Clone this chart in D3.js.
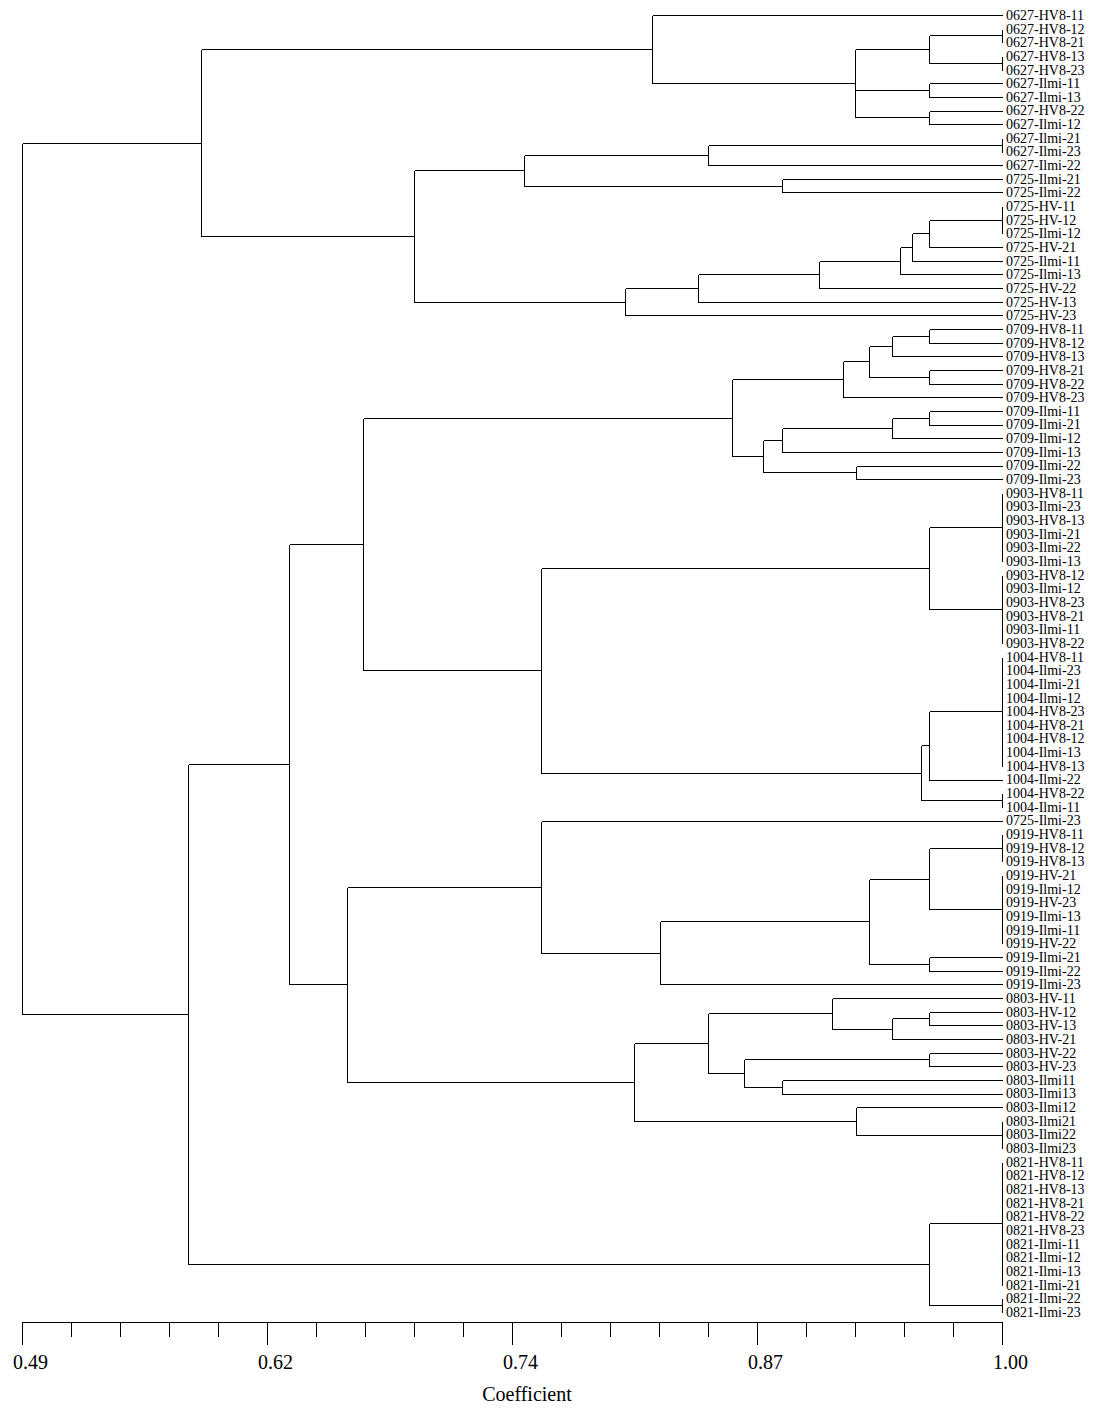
<!DOCTYPE html>
<html>
<head>
<meta charset="utf-8">
<script src="https://cdn.jsdelivr.net/npm/d3@7"></script>
<style>
	body { margin:0; background:#fff; }
	svg { display:block; }
</style>
</head>
<body>
<svg id="svgelement" width="1101" height="1420"></svg>
<script>
	// leaf labels, top to bottom
	var labels = [
		"0627-HV8-11","0627-HV8-12","0627-HV8-21","0627-HV8-13","0627-HV8-23","0627-Ilmi-11","0627-Ilmi-13","0627-HV8-22","0627-Ilmi-12",
		"0627-Ilmi-21","0627-Ilmi-23","0627-Ilmi-22","0725-Ilmi-21","0725-Ilmi-22",
		"0725-HV-11","0725-HV-12","0725-Ilmi-12","0725-HV-21","0725-Ilmi-11","0725-Ilmi-13","0725-HV-22","0725-HV-13","0725-HV-23",
		"0709-HV8-11","0709-HV8-12","0709-HV8-13","0709-HV8-21","0709-HV8-22","0709-HV8-23",
		"0709-Ilmi-11","0709-Ilmi-21","0709-Ilmi-12","0709-Ilmi-13","0709-Ilmi-22","0709-Ilmi-23",
		"0903-HV8-11","0903-Ilmi-23","0903-HV8-13","0903-Ilmi-21","0903-Ilmi-22","0903-Ilmi-13",
		"0903-HV8-12","0903-Ilmi-12","0903-HV8-23","0903-HV8-21","0903-Ilmi-11","0903-HV8-22",
		"1004-HV8-11","1004-Ilmi-23","1004-Ilmi-21","1004-Ilmi-12","1004-HV8-23","1004-HV8-21","1004-HV8-12","1004-Ilmi-13","1004-HV8-13",
		"1004-Ilmi-22","1004-HV8-22","1004-Ilmi-11",
		"0725-Ilmi-23","0919-HV8-11","0919-HV8-12","0919-HV8-13","0919-HV-21","0919-Ilmi-12","0919-HV-23","0919-Ilmi-13","0919-Ilmi-11",
		"0919-HV-22","0919-Ilmi-21","0919-Ilmi-22","0919-Ilmi-23",
		"0803-HV-11","0803-HV-12","0803-HV-13","0803-HV-21","0803-HV-22","0803-HV-23","0803-Ilmi11","0803-Ilmi13",
		"0803-Ilmi12","0803-Ilmi21","0803-Ilmi22","0803-Ilmi23",
		"0821-HV8-11","0821-HV8-12","0821-HV8-13","0821-HV8-21","0821-HV8-22","0821-HV8-23",
		"0821-Ilmi-11","0821-Ilmi-12","0821-Ilmi-13","0821-Ilmi-21","0821-Ilmi-22","0821-Ilmi-23"
	];

	// clustering: [coefficient, child, child, ...], numbers are leaf indexes
	var tree =
	[0.49,
		[0.583,
			[0.818, 0,
				[0.9235,
					[0.962, [1, 1, 2], [1, 3, 4]],
					[0.962, 5, 6],
					[0.962, 7, 8]]],
			[0.694,
				[0.751,
					[0.847, [1, 9, 10], 11],
					[0.8855, 12, 13]],
				[0.804,
					[0.842,
						[0.905,
							[0.947,
								[0.953,
									[0.962, [1, 14, 15, 16], 17],
									18],
								19],
							20],
						21],
					22]]],
		[0.5764,
			[0.629,
				[0.6675,
					[0.8595,
						[0.917,
							[0.931,
								[0.943, [0.962, 23, 24], 25],
								[0.962, 26, 27]],
							28],
						[0.8756,
							[0.8855,
								[0.943, [0.962, 29, 30], 31],
								32],
							[0.924, 33, 34]]],
					[0.760,
						[0.962, [1, 35, 36, 37, 38, 39, 40], [1, 41, 42, 43, 44, 45, 46]],
						[0.958,
							[0.962, [1, 47, 48, 49, 50, 51, 52, 53, 54, 55], 56],
							[1, 57, 58]]]],
				[0.659,
					[0.760, 59,
						[0.822,
							[0.931,
								[0.962, [1, 60, 61, 62], [1, 63, 64, 65, 66, 67, 68]],
								[0.962, 69, 70]],
							71]],
					[0.8085,
						[0.847,
							[0.9115, 72, [0.943, [0.962, 73, 74], 75]],
							[0.8657, [0.962, 76, 77], [0.8855, 78, 79]]],
						[0.924, 80, [1, 81, 82, 83]]]]],
			[0.962, [1, 84, 85, 86, 87, 88, 89, 90, 91, 92, 93], [1, 94, 95]]]];

	var axisMin = 0.49, axisMax = 1.00;
	var tickLabels = ["0.49","0.62","0.74","0.87","1.00"];
	var axisTitle = "Coefficient";

	var svg = d3.select("#svgelement");
	var x = d3.scaleLinear().domain([axisMin, axisMax]).range([22, 1002]);
	var y = d3.scalePoint().domain(d3.range(labels.length)).range([15, 1312]);

	var root = d3.hierarchy(tree, function(d){ return Array.isArray(d) ? d.slice(1) : null; });
	root.eachAfter(function(n) {
		if (n.children) {
			n.py = (n.children[0].py + n.children[n.children.length-1].py) / 2;
			n.px = x(n.data[0]);
		} else {
			n.py = y(n.data);
			n.px = x(1);
		}
	});

	var segs = [];
	root.each(function(n) {
		if (!n.children) return;
		var c0 = n.children[0], c1 = n.children[n.children.length-1];
		segs.push([n.px, c0.py, n.px, c1.py]);
		n.children.forEach(function(c) {
			if (c.px > n.px) segs.push([n.px, c.py, c.px, c.py]);
		});
	});

	svg.append("g")
		.attr("stroke", "#000")
		.attr("stroke-width", 1)
		.attr("shape-rendering", "crispEdges")
		.selectAll("line")
		.data(segs)
		.enter()
		.append("line")
		.attr("x1", function(d){ return Math.round(d[0]) + 0.5; })
		.attr("y1", function(d){ return Math.round(d[1]) + 0.5; })
		.attr("x2", function(d){ return Math.round(d[2]) + 0.5; })
		.attr("y2", function(d){ return Math.round(d[3]) + 0.5; });

	svg.append("g")
		.selectAll("text")
		.data(root.leaves())
		.enter()
		.append("text")
		.attr("x", x(1) + 4)
		.attr("y", function(d){ return d.py; })
		.attr("dy", "0.35em")
		.attr("font-family", "'Liberation Serif', 'Times New Roman', serif")
		.attr("font-size", 14)
		.text(function(d){ return labels[d.data]; });

	// axis: 20 minor intervals, label every 5th
	var minor = d3.range(21).map(function(i){ return axisMin + i * (axisMax - axisMin) / 20; });
	var major = minor.filter(function(d, i){ return i % 5 === 0; });

	var axisY = 1321.5;
	svg.append("g")
		.attr("transform", "translate(0," + axisY + ")")
		.attr("shape-rendering", "crispEdges")
		.call(d3.axisBottom(x).tickValues(minor).tickSize(15).tickSizeOuter(0).tickFormat(""));

	var gMajor = svg.append("g")
		.attr("transform", "translate(0," + axisY + ")")
		.attr("shape-rendering", "crispEdges")
		.call(d3.axisBottom(x).tickValues(major).tickSize(23).tickSizeOuter(0).tickPadding(10)
			.tickFormat(function(d, i){ return tickLabels[i]; }));
	gMajor.select(".domain").remove();
	gMajor.selectAll("text")
		.attr("dx", 8)
		.attr("font-family", "'Liberation Serif', 'Times New Roman', serif")
		.attr("font-size", 20)
		.attr("fill", "#000");

	svg.append("text")
		.attr("x", 527)
		.attr("y", 1401)
		.attr("text-anchor", "middle")
		.attr("font-family", "'Liberation Serif', 'Times New Roman', serif")
		.attr("font-size", 20)
		.text(axisTitle);
</script>
</body>
</html>
